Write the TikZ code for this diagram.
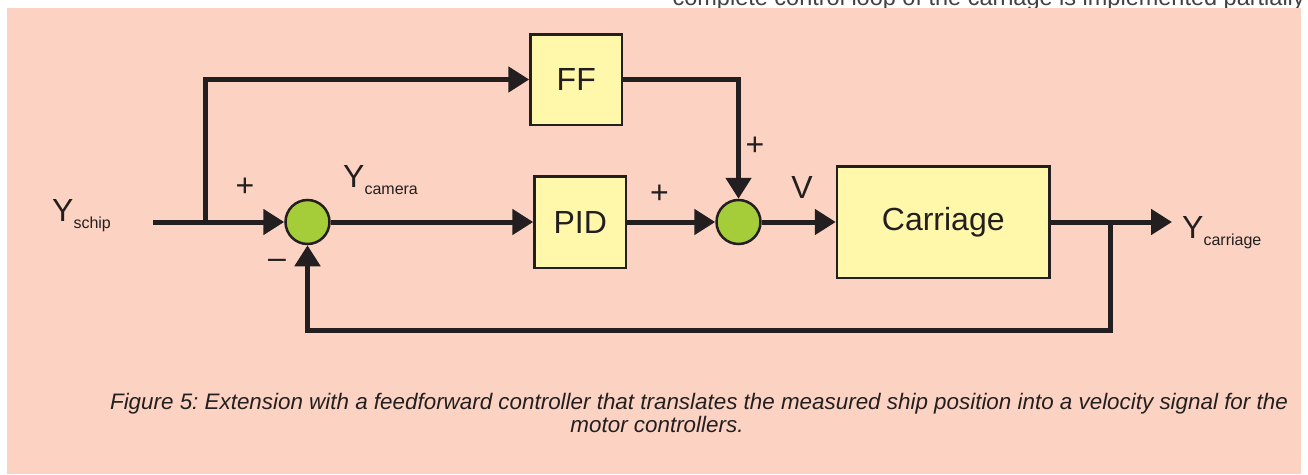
\documentclass[tikz,border=0pt]{standalone}
\usepackage{fontspec}
\setmainfont{Liberation Sans}
\usepackage{tikz}
\usetikzlibrary{arrows.meta,positioning}
\definecolor{bgsalmon}{HTML}{FCD3C2}
\definecolor{blkyellow}{HTML}{FFF8AA}
\definecolor{sumgreen}{HTML}{A4CD39}
\definecolor{ink}{HTML}{231F20}
\newcommand{\lowsub}[1]{{\fontsize{16}{16}\selectfont\raisebox{-7pt}{#1}}}
\frenchspacing

\begin{document}
\begin{tikzpicture}[
  x=1pt, y=-1pt,
  node distance=50pt and 80pt,
  blk/.style={draw=ink, line width=2.5pt, fill=blkyellow, inner sep=0pt, text=ink, font=\fontsize{32}{38}\selectfont},
  sumnode/.style={circle, draw=ink, line width=2.5pt, fill=sumgreen, minimum size=44pt, inner sep=0pt},
  sig/.style={draw=ink, line width=5pt, -{Triangle[length=21pt, width=25pt]}},
  lbl/.style={inner sep=0pt, text=ink, font=\fontsize{32}{38}\selectfont},
  capt/.style={inner sep=0pt, text=ink, font=\fontsize{22.4}{26}\selectfont\itshape},
]
\useasboundingbox (0,0) rectangle (1308,474);

% --- Page text and background ---
\node[inner sep=0pt, anchor=base east, text=ink!85, font=\fontsize{23.5}{28}\selectfont] (pagetext) at (1305,5) {complete control loop of the carriage is implemented partially};
\fill[bgsalmon] (7,8) rectangle (1301,474);

% --- Main row ---
\node[sumnode] (sum1) at (307.5,222) {};
\node[blk, minimum width=91.5pt, minimum height=91.5pt, right=202.5pt of sum1] (pid) {PID};
\node[sumnode, right=88pt of pid] (sum2) {};
\node[blk, minimum width=212.5pt, minimum height=111.5pt, right=74pt of sum2] (carriage) {Carriage};

% --- Feedforward block ---
\node[blk, minimum width=91.5pt, minimum height=90.5pt, above=49pt of pid, xshift=-4pt] (ff) {FF};

% --- Signal points ---
\coordinate (yin) at (153,222);
\coordinate (ffsplit) at (205,222);
\coordinate (yout) at (1172,222);
\coordinate (fbsplit) at (1110,222);

% --- Forward arrows ---
\draw[sig] (yin) -- (sum1.west);
\draw[sig] (sum1) -- (pid);
\draw[sig] (pid) -- (sum2);
\draw[sig] (sum2) -- (carriage);
\draw[sig] (carriage) -- (yout);

% --- Feedforward path ---
\draw[sig] (ffsplit) |- (ff.west);
\draw[sig] (ff.east) -| (sum2.north);

% --- Feedback loop ---
\draw[sig] (fbsplit) -- ++(0,108) -| (sum1.south);

% --- Signal labels ---
\node[lbl, anchor=base west] (yschip) at (52,221) {Y\lowsub{schip}};
\node[lbl, anchor=base west] (ycamera) at (343,187) {Y\lowsub{camera}};
\node[lbl, anchor=base] (vel) at (802,198) {V};
\node[lbl, anchor=base west] (ycarriage) at (1182,238) {Y\lowsub{carriage}};

% --- Signs ---
\node[lbl] (plusin) at (245,187) {+};
\node[lbl] (minfb) at (277,264) {–};
\node[lbl] (pluspid) at (659.5,194) {+};
\node[lbl] (plusff) at (755,146) {+};

% --- Caption ---
\node[capt, anchor=base] (cap1) at (699,409) {Figure 5: Extension with a feedforward controller that translates the measured ship position into a velocity signal for the};
\node[capt, anchor=base] (cap2) at (657,432) {motor controllers.};
\end{tikzpicture}
\end{document}
